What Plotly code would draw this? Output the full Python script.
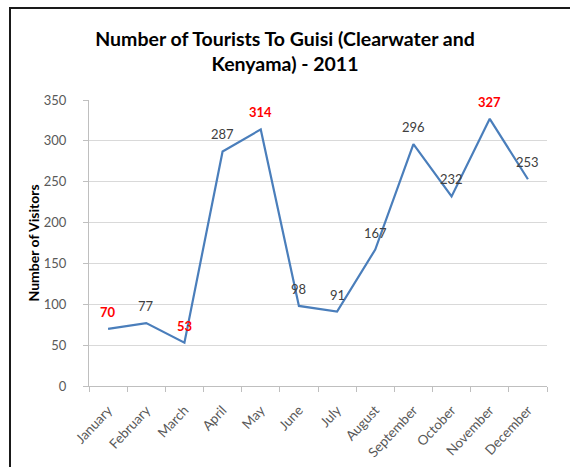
"""
Monthly tourist visitors to Guisi (Clearwater and Kenyama), 2011.

Excel-style line chart with data labels; peak and trough months in red.
"""

import plotly.graph_objects as go


months = [
    "January", "February", "March", "April", "May", "June",
    "July", "August", "September", "October", "November", "December",
]
visitors = [70, 77, 53, 287, 314, 98, 91, 167, 296, 232, 327, 253]
highlighted = ["January", "March", "May", "November"]

_FONT = "Lato, 'Open Sans', sans-serif"
_LINE_BLUE = "#4a7ebb"
_GRID = "#d9d9d9"
_TEXT_GRAY = "#595959"

W, H = 570, 467
M_L, M_R, M_T, M_B = 89, 23, 100, 81
PLOT_W = W - M_L - M_R
PLOT_H = H - M_T - M_B

fig = go.Figure()

fig.add_trace(go.Scatter(
    x=months,
    y=visitors,
    mode="lines",
    line=dict(color=_LINE_BLUE, width=2.2),
    hoverinfo="x+y",
    showlegend=False,
))

# data labels sit just above each point
for month, value in zip(months, visitors):
    is_hi = month in highlighted
    fig.add_annotation(
        x=month,
        y=value,
        text=f"<b>{value}</b>" if is_hi else str(value),
        showarrow=False,
        yshift=17,
        font=dict(
            family=_FONT,
            size=13,
            color="#ff0000" if is_hi else "#404040",
        ),
    )

# frame of the original screenshot (left and top edges only visible)
fx0 = (10 - M_L) / PLOT_W
fy1 = 1 + (M_T - 8) / PLOT_H
fig.add_shape(
    type="path",
    xref="paper",
    yref="paper",
    path=f"M {fx0},-1 L {fx0},{fy1} L 2,{fy1}",
    line=dict(color="#1a1a1a", width=2),
)

fig.update_layout(
    width=W,
    height=H,
    margin=dict(l=M_L, r=M_R, t=M_T, b=M_B, autoexpand=False),
    paper_bgcolor="white",
    plot_bgcolor="white",
    font=dict(family=_FONT, color=_TEXT_GRAY, size=12),
    title=dict(
        text="Number of Tourists To Guisi (Clearwater and<br>Kenyama) - 2011",
        xref="container",
        x=0.5,
        xanchor="center",
        yref="container",
        y=1 - 46 / H,
        yanchor="top",
        font=dict(family=_FONT, size=19.5, color="#000000", weight="bold"),
    ),
    xaxis=dict(
        type="category",
        range=[-0.5, 11.5],
        automargin=False,
        showgrid=False,
        showline=True,
        linecolor="#bfbfbf",
        linewidth=1,
        ticks="outside",
        tickson="boundaries",
        ticklen=5,
        tickcolor="#bfbfbf",
        tickangle=-47,
        ticklabelstandoff=10,
        tickfont=dict(size=13.5, color=_TEXT_GRAY),
        fixedrange=True,
    ),
    yaxis=dict(
        range=[0, 350],
        dtick=50,
        automargin=False,
        showgrid=True,
        gridcolor=_GRID,
        gridwidth=1,
        zeroline=False,
        showline=True,
        linecolor="#bfbfbf",
        ticks="outside",
        ticklen=5,
        tickcolor="#bfbfbf",
        ticklabelstandoff=14,
        tickfont=dict(size=13, color=_TEXT_GRAY),
        title=dict(
            text="<b>Number of Visitors</b>",
            font=dict(size=14, color="#000000"),
            standoff=0,
        ),
        fixedrange=True,
    ),
)

# drop the browser's default body margin so the figure sits at (0, 0)
fig.write_html(
    "out.html",
    config={"displayModeBar": False},
    post_script="document.body.style.margin='0';",
)
